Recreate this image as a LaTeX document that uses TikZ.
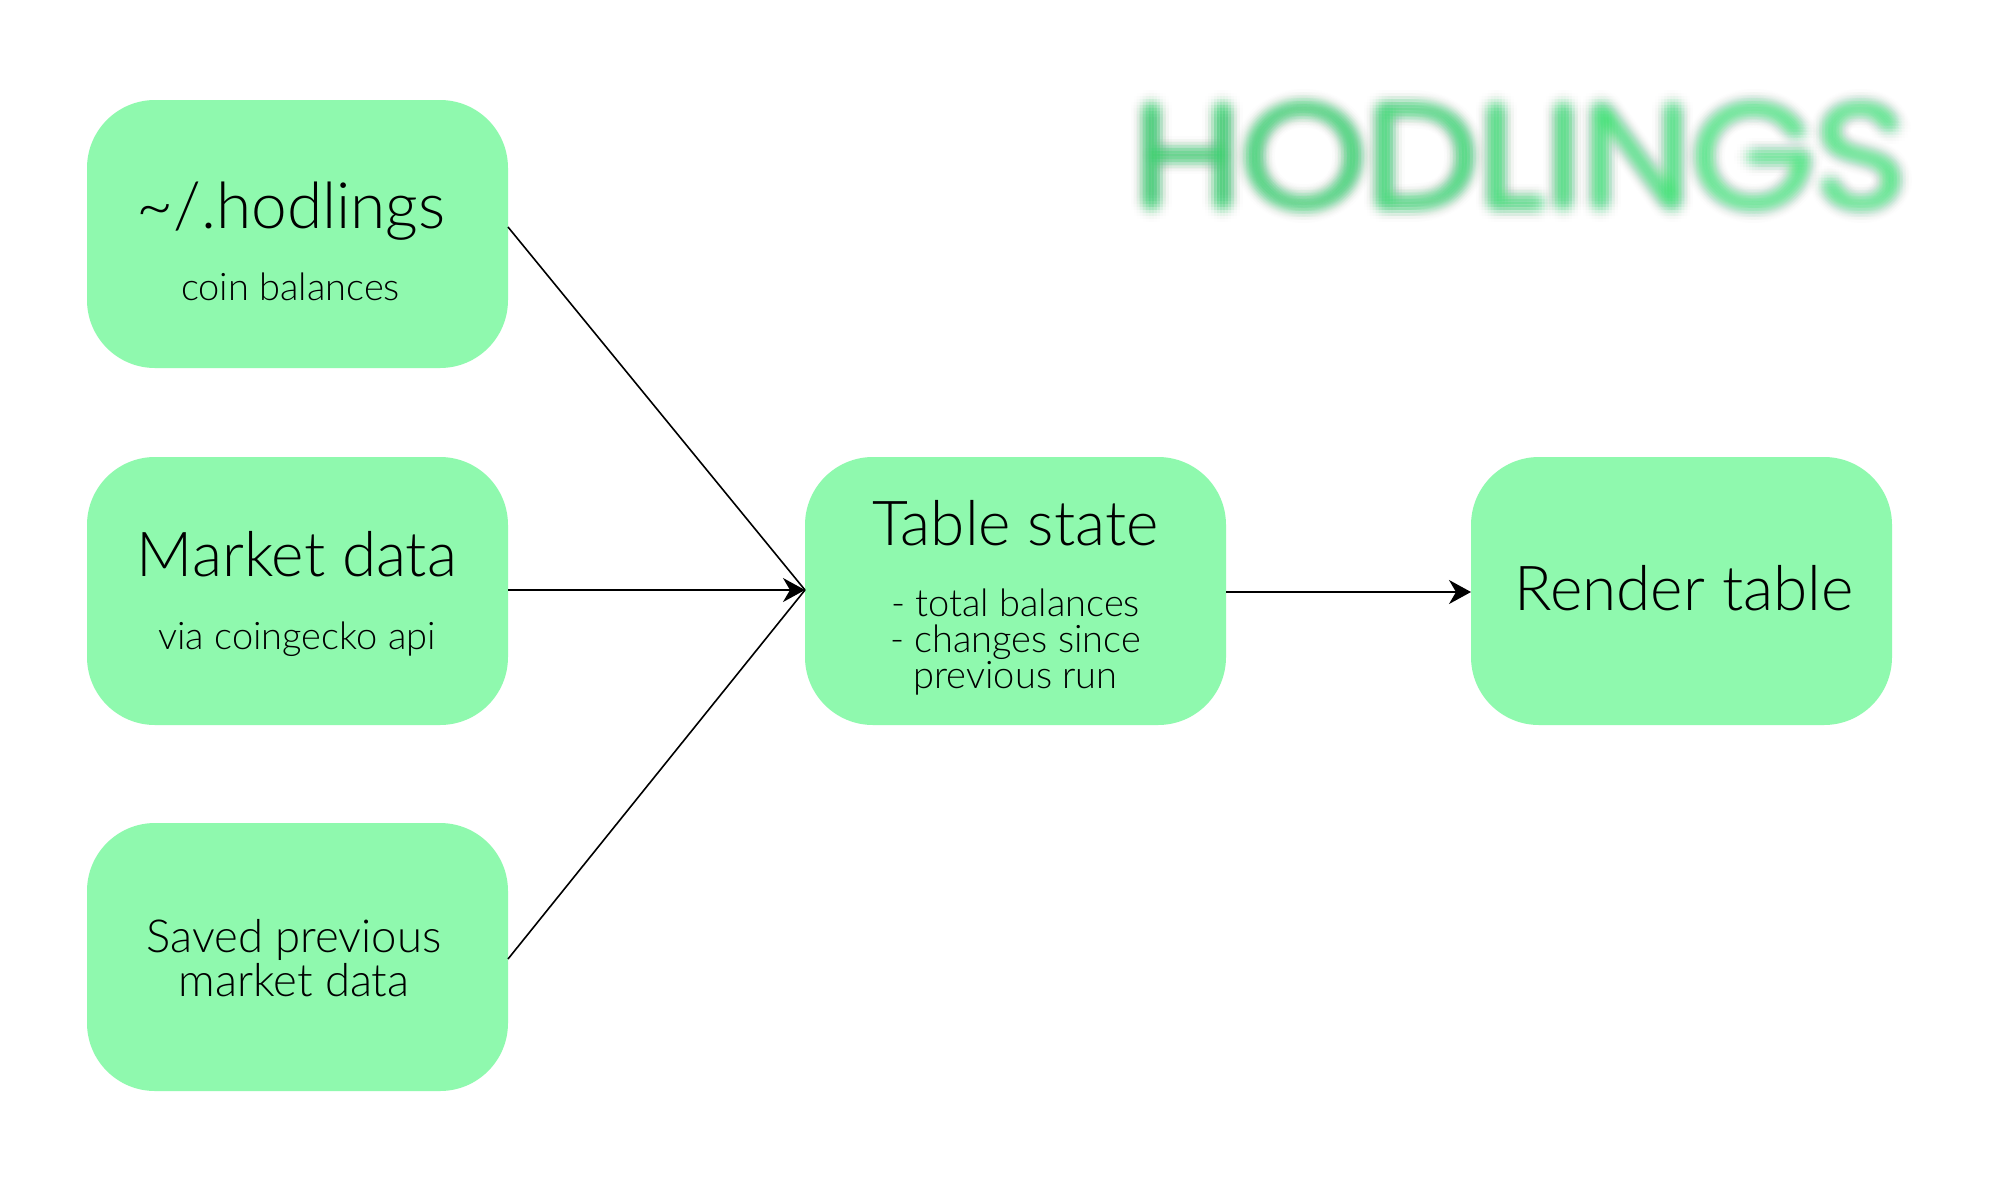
\documentclass[tikz,border=0pt]{standalone}
\usepackage{fontspec}
\setmainfont{Lato Light}
\newfontfamily\logofont{Poppins Light}
\usetikzlibrary{arrows.meta,calc}
\definecolor{boxgreen}{HTML}{8FF9AE}
\definecolor{lgA}{HTML}{0FD055}
\definecolor{lgB}{HTML}{16D65C}
\definecolor{lgC}{HTML}{18DA60}
\definecolor{lgD}{HTML}{20DE66}
\definecolor{lgE}{HTML}{28E26E}
\definecolor{lgF}{HTML}{32E676}
\tikzset{
  x=1pt,y=-1pt,
  box/.style={fill=boxgreen,draw=none,rounded corners=68pt,minimum width=421pt,minimum height=268pt,inner sep=0pt,outer sep=0pt},
  big/.style={font=\fontsize{62}{70}\selectfont,inner sep=0pt},
  small/.style={font=\fontsize{38}{36}\selectfont,inner sep=0pt,align=center},
  mid/.style={font=\fontsize{45.5}{43.5}\selectfont,inner sep=0pt,align=center},
  conn/.style={draw=black,line width=1.6pt},
  arr/.style={conn,-{Stealth[length=22pt,width=24pt,inset=7pt]}}
}
\begin{document}
\begin{tikzpicture}
\useasboundingbox (0,0) rectangle (2000,1200);
\fill[white] (0,0) rectangle (2000,1200);
% blurred logo
\foreach \dx in {-15,-12,...,15}{
  \foreach \dy in {-15,-12,...,15}{
    \pgfmathsetmacro{\op}{0.06*exp(-(\dx*\dx+\dy*\dy)/(2*36))}
    \node[inner sep=0pt,opacity=\op,anchor=center,xscale=1.088] at (1520+\dx,156+\dy) {\logofont\fontsize{146}{146}\selectfont
      \textcolor{lgA}{H}\textcolor{lgB}{O}\textcolor{lgC}{D}\textcolor{lgD}{L}\textcolor{lgD}{I}\textcolor{lgE}{N}\textcolor{lgF}{G}\textcolor{lgF}{S}};
  }
}
\node[box] (hod) at (297.5,234) {};
\node[box] (mkt) at (297.5,591) {};
\node[box] (prev) at (297.5,957) {};
\node[box] (tbl) at (1015.5,591) {};
\node[box] (rnd) at (1681.5,591) {};
\node[big,font=\fontsize{64}{70}\selectfont] (t1) at (291,211.5) {\textasciitilde/.hodlings};
\node[small] (t1b) at (290.5,287) {coin balances};
\node[big] (t2) at (297,554.5) {Market data};
\node[small] (t2b) at (297,639) {via coingecko api};
\node[mid] (t3) at (294,958) {Saved previous\\market data};
\node[big] (t4) at (1015.5,523.5) {Table state};
\node[small] (t4b) at (1015.5,642) {- total balances\\- changes since\\previous run};
\node[big] (t5) at (1684,588.5) {Render table};
\coordinate (join) at ([yshift=1pt]tbl.west);
\draw[conn] ([yshift=7pt]hod.east) -- (join);
\draw[arr] ([yshift=1pt]mkt.east) -- (join);
\draw[conn] ([yshift=-2pt]prev.east) -- (join);
\draw[arr] ([yshift=-1pt]tbl.east) -- ([yshift=-1pt]rnd.west);
\end{tikzpicture}
\end{document}
